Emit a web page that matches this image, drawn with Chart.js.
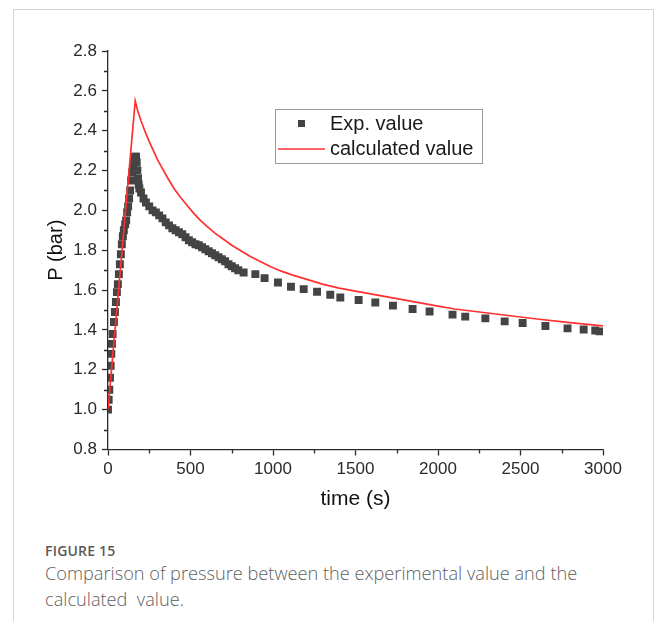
<!DOCTYPE html>
<html>
<head>
<meta charset="utf-8">
<script src="https://cdn.jsdelivr.net/npm/chart.js@4/dist/chart.umd.min.js"></script>
<style>
  html, body { margin: 0; padding: 0; background: #fff; }
  body { width: 661px; height: 621px; position: relative; overflow: hidden; }
  .frame { position: absolute; left: 13px; top: 9px; width: 641px; height: 640px;
           border: 1px solid #d4d4d4; box-sizing: border-box; }
  #wrap { position: absolute; left: 0; top: 0; width: 661px; height: 520px; }
  .fig { position: absolute; left: 45px; top: 541px; font-family: "Open Sans", "Noto Sans", sans-serif;
         font-size: 14px; font-weight: 600; color: #5a5a5a; letter-spacing: 0.2px; }
  .cap { position: absolute; left: 45px; top: 560px; width: 600px; font-family: "Open Sans", "Noto Sans", sans-serif;
         font-size: 18.2px; line-height: 26px; color: #5f5f5f; font-weight: 300; }
</style>
</head>
<body>
<div class="frame"></div>
<div id="wrap"><canvas id="c" width="661" height="520"></canvas></div>
<div class="fig">FIGURE 15</div>
<div class="cap">Comparison of pressure between the experimental value and the<br>calculated&nbsp; value.</div>
<script>
// Measured pressure (bar) against time (s)
const expTime = [0, 4, 8, 12, 16, 20, 24, 28, 36, 42, 48, 54, 60, 66, 72, 78, 84, 90, 96, 104, 110, 116, 122, 128, 134, 140, 146, 152, 158, 164, 170,
  174, 178, 182, 186, 190, 200, 215, 230, 250, 270, 290, 310, 330, 350, 370, 390, 410, 430, 450, 470, 490, 510, 530, 550, 570, 590, 610, 630, 650, 670, 690, 710, 730, 750, 770, 790,
  822, 893, 949, 1030, 1109, 1186, 1267, 1347, 1408, 1519, 1620, 1727, 1846, 1949, 2088, 2165, 2287, 2404, 2513, 2651, 2785, 2883, 2953, 2979];
const expPressure = [1.0, 1.05, 1.1, 1.16, 1.22, 1.28, 1.33, 1.38, 1.44, 1.49, 1.54, 1.59, 1.63, 1.68, 1.73, 1.78, 1.83, 1.87, 1.9, 1.93, 1.95, 1.99, 2.02, 2.06, 2.1, 2.15, 2.19, 2.22, 2.25, 2.27, 2.27,
  2.24, 2.2, 2.16, 2.13, 2.11, 2.09, 2.06, 2.04, 2.02, 2.0, 1.99, 1.975, 1.96, 1.94, 1.925, 1.91, 1.9, 1.89, 1.88, 1.865, 1.85, 1.84, 1.83, 1.825, 1.815, 1.805, 1.795, 1.785, 1.775, 1.765, 1.755, 1.745, 1.73, 1.72, 1.71, 1.7,
  1.688, 1.68, 1.66, 1.638, 1.617, 1.605, 1.592, 1.577, 1.563, 1.55, 1.538, 1.522, 1.505, 1.493, 1.477, 1.467, 1.458, 1.443, 1.435, 1.42, 1.408, 1.402, 1.397, 1.393];

// Model prediction
const calcTime = [0, 165, 180, 200, 225, 250, 275, 300, 330, 360, 400, 440, 480, 520, 560, 600, 650, 700, 750, 800, 860, 920, 980, 1050, 1120, 1200, 1300, 1400, 1500, 1600, 1700, 1800, 1900, 2000, 2100, 2200, 2400, 2600, 2800, 3000];
const calcPressure = [1.0, 2.55, 2.5, 2.45, 2.395, 2.345, 2.3, 2.255, 2.21, 2.165, 2.11, 2.065, 2.025, 1.985, 1.95, 1.92, 1.885, 1.855, 1.825, 1.8, 1.77, 1.745, 1.72, 1.695, 1.675, 1.655, 1.63, 1.61, 1.595, 1.58, 1.565, 1.55, 1.535, 1.52, 1.505, 1.495, 1.475, 1.455, 1.437, 1.42];

const seriesNames = ['Exp. value', 'calculated value'];
const xTicks = [0, 500, 1000, 1500, 2000, 2500, 3000];
const yTicks = [0.8, 1.0, 1.2, 1.4, 1.6, 1.8, 2.0, 2.2, 2.4, 2.6, 2.8];

const AXIS = '#2b2b2b';
const SQUARE = '#444444';
const RED = '#ff3030';
const FONT = '"Liberation Sans", Arial, sans-serif';

const pts = (xs, ys) => xs.map((x, i) => ({ x, y: ys[i] }));

// small ticks halfway between the labelled ones
const minorTicks = {
  id: 'minorTicks',
  afterDatasetsDraw(chart) {
    const { ctx, scales: { x, y } } = chart;
    ctx.save();
    ctx.strokeStyle = AXIS;
    ctx.lineWidth = 1.3;
    ctx.beginPath();
    for (let i = 0; i < xTicks.length - 1; i++) {
      const px = Math.round(x.getPixelForValue((xTicks[i] + xTicks[i + 1]) / 2)) + 0.5;
      ctx.moveTo(px, y.bottom);
      ctx.lineTo(px, y.bottom + 4);
    }
    for (let i = 0; i < yTicks.length - 1; i++) {
      const py = Math.round(y.getPixelForValue((yTicks[i] + yTicks[i + 1]) / 2)) + 0.5;
      ctx.moveTo(x.left, py);
      ctx.lineTo(x.left - 4, py);
    }
    ctx.stroke();
    ctx.restore();
  }
};

// boxed key inside the plot
const keyBox = {
  id: 'keyBox',
  afterDatasetsDraw(chart) {
    const { ctx } = chart;
    const bx = 275.5, by = 109.5, bw = 207, bh = 54;
    ctx.save();
    ctx.fillStyle = '#fff';
    ctx.fillRect(bx, by, bw, bh);
    ctx.strokeStyle = '#9a9a9a';
    ctx.lineWidth = 1;
    ctx.strokeRect(bx, by, bw, bh);
    ctx.fillStyle = SQUARE;
    ctx.fillRect(298, 120, 7, 7);
    ctx.strokeStyle = RED;
    ctx.lineWidth = 1.6;
    ctx.beginPath();
    ctx.moveTo(278, 149);
    ctx.lineTo(325, 149);
    ctx.stroke();
    ctx.fillStyle = '#1a1a1a';
    ctx.font = '20px ' + FONT;
    ctx.textBaseline = 'middle';
    ctx.fillText(chart.data.datasets[0].label, 330, 124);
    ctx.fillText(chart.data.datasets[1].label, 330, 149);
    ctx.restore();
  }
};

new Chart(document.getElementById('c'), {
  type: 'scatter',
  data: {
    datasets: [
      {
        label: seriesNames[0],
        data: pts(expTime, expPressure),
        pointStyle: 'rect',
        pointRadius: 5.6,
        pointBackgroundColor: SQUARE,
        pointBorderWidth: 0,
        showLine: false,
        order: 1
      },
      {
        label: seriesNames[1],
        data: pts(calcTime, calcPressure),
        showLine: true,
        borderColor: RED,
        borderWidth: 1.7,
        pointRadius: 0,
        tension: 0,
        order: 0
      }
    ]
  },
  options: {
    responsive: false,
    animation: false,
    events: [],
    layout: { padding: { left: 44, right: 58, top: 51, bottom: 8 } },
    plugins: { legend: { display: false }, tooltip: { enabled: false } },
    scales: {
      x: {
        type: 'linear',
        min: 0, max: 3000,
        afterFit(s) { s.height = 62.5; },
        afterBuildTicks(s) { s.ticks = xTicks.map(v => ({ value: v })); },
        border: { display: true, color: AXIS, width: 1.3 },
        grid: { display: true, drawOnChartArea: false, drawTicks: true, tickLength: 6, tickColor: AXIS, tickWidth: 1.3 },
        ticks: { color: '#2a2a2a', font: { family: FONT, size: 17 }, padding: 4, maxRotation: 0,
                 callback: v => String(v) },
        title: { display: true, text: 'time (s)', color: '#111', font: { family: FONT, size: 21 }, padding: 0 }
      },
      y: {
        type: 'linear',
        min: 0.8, max: 2.8,
        afterFit(s) { s.width = 64; },
        afterBuildTicks(s) { s.ticks = yTicks.map(v => ({ value: v })); },
        border: { display: true, color: AXIS, width: 1.3 },
        grid: { display: true, drawOnChartArea: false, drawTicks: true, tickLength: 6, tickColor: AXIS, tickWidth: 1.3 },
        ticks: { color: '#2a2a2a', font: { family: FONT, size: 17 }, padding: 5,
                 callback: v => v.toFixed(1) },
        title: { display: true, text: 'P (bar)', color: '#111', font: { family: FONT, size: 20 }, padding: 0 }
      }
    }
  },
  plugins: [minorTicks, keyBox]
});
</script>
</body>
</html>
